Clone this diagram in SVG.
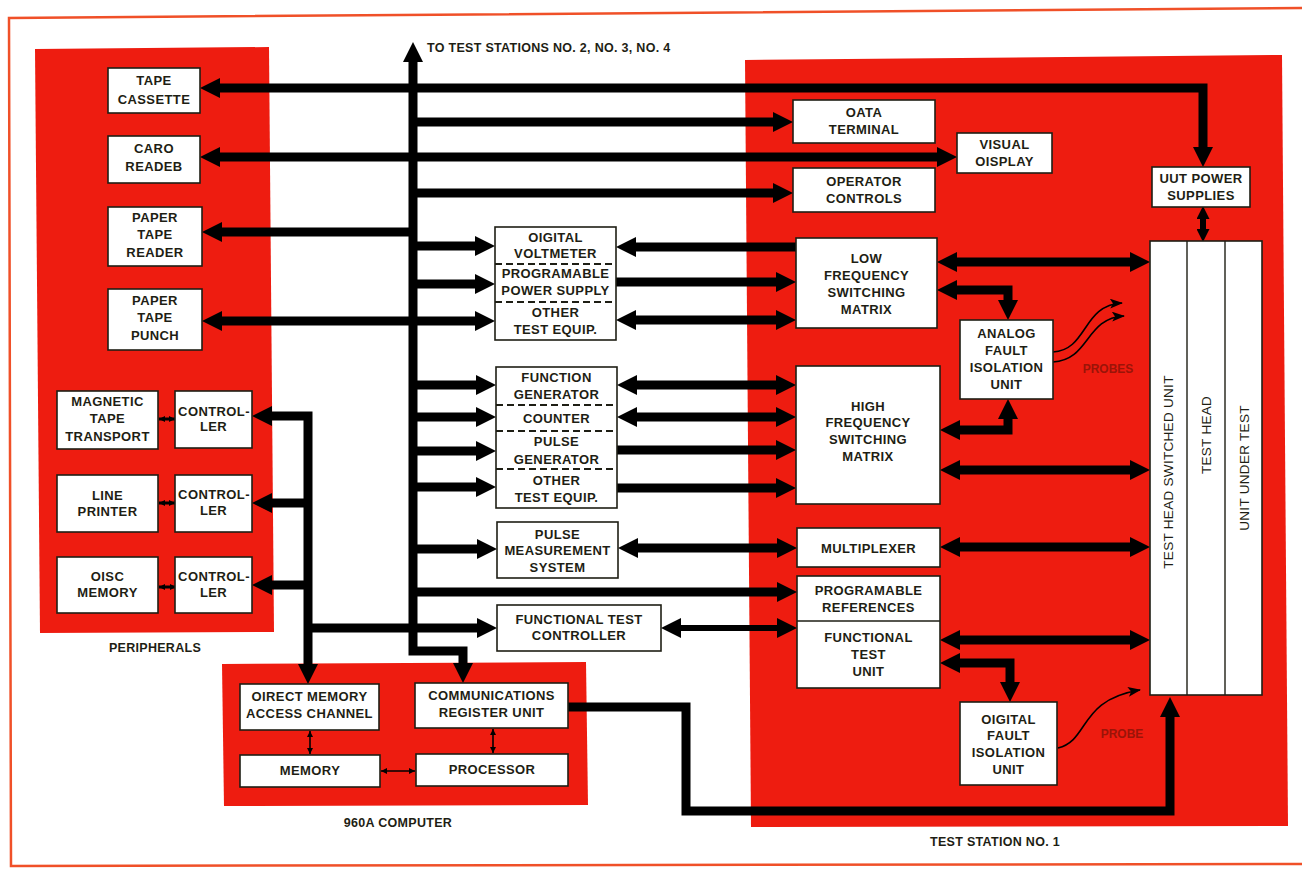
<svg xmlns="http://www.w3.org/2000/svg" width="1302" height="871" viewBox="0 0 1302 871">
<style>
.bg{fill:#ffffff}
.red{fill:#ee1c10}
.box{fill:#ffffff;stroke:#1e1e14;stroke-width:1.6}
.div{stroke:#1e1e14;stroke-width:2;stroke-dasharray:7 4;fill:none}
.sol{stroke:#1e1e14;stroke-width:1.4;fill:none}
.t{font-family:"Liberation Sans",Arial,sans-serif;font-weight:bold;font-size:13px;fill:#1e1e14;text-anchor:middle;letter-spacing:0.4px}
.lab{font-family:"Liberation Sans",Arial,sans-serif;font-weight:bold;font-size:12.5px;fill:#1e1e14;letter-spacing:0.3px}
.rot{font-family:"Liberation Sans",Arial,sans-serif;font-size:13.5px;fill:#1e1e14;text-anchor:middle;letter-spacing:0.3px}
.pr{font-family:"Liberation Sans",Arial,sans-serif;font-weight:bold;font-size:12px;fill:#9a1408;text-anchor:middle}
.bus{stroke:#000;stroke-width:9;fill:none;stroke-linejoin:miter}
.med{stroke:#000;stroke-width:6;fill:none}
.thin{stroke:#000;stroke-width:1.6;fill:none}
.sm{stroke:#000;stroke-width:3;fill:none}
.ba{marker-end:url(#ah)}
.bb{marker-start:url(#ah);marker-end:url(#ah)}
.bs{marker-start:url(#ah)}
</style>
<defs>
<marker id="ah" markerUnits="userSpaceOnUse" markerWidth="20" markerHeight="20" viewBox="0 0 20 20" refX="2" refY="10" orient="auto-start-reverse">
<path d="M0,0 L20,10 L0,20 z" fill="#000"/>
</marker>
<marker id="mh" markerUnits="userSpaceOnUse" markerWidth="13" markerHeight="13" viewBox="0 0 13 13" refX="1" refY="6.5" orient="auto-start-reverse">
<path d="M0,0 L13,6.5 L0,13 z" fill="#000"/>
</marker>
<marker id="th" markerUnits="userSpaceOnUse" markerWidth="13" markerHeight="10" viewBox="0 0 13 10" refX="12" refY="5" orient="auto-start-reverse">
<path d="M0,0 L13,5 L0,10 L3,5 z" fill="#000"/>
</marker>
<marker id="tn" markerUnits="userSpaceOnUse" markerWidth="6" markerHeight="6" viewBox="0 0 6 6" refX="6" refY="3" orient="auto-start-reverse">
<path d="M0,0 L6,3 L0,6 z" fill="#000"/>
</marker>
</defs>
<rect class="bg" x="0" y="0" width="1302" height="871"/>
<path d="M1302,8 L9,18 L11,866 L1302,864" fill="none" stroke="#f05028" stroke-width="2.5"/>

<g id="regions">
<polygon class="red" points="35,49 269,47 274,632 40,633"/>
<polygon class="red" points="745,60 1282,55 1288,826 751,827"/>
<polygon class="red" points="222,664 586,662 588,805 224,806"/>
<text class="lab" x="155" y="652" text-anchor="middle">PERIPHERALS</text>
<text class="lab" x="398" y="827" text-anchor="middle">960A COMPUTER</text>
<text class="lab" x="995" y="846" text-anchor="middle">TEST STATION NO. 1</text>
<text class="lab" x="427" y="52">TO TEST STATIONS NO. 2, NO. 3, NO. 4</text>
<text class="pr" x="1108" y="373">PROBES</text>
<text class="pr" x="1122" y="738">PROBE</text>
</g>

<g id="connectors">
<path class="bus bs ba" d="M413,60 L413,651 L463,651 L463,665"/>
<path class="bus bs ba" d="M270,416 L308,416 L308,666"/>
<path class="bus bs" d="M270,503 L308,503"/>
<path class="bus bs" d="M270,585 L308,585"/>
<path class="bus ba" d="M308,628 L479,628"/>
<path class="bus bb" d="M218,88 L1203,88 L1203,149"/>
<path class="bus ba" d="M413,122 L775,122"/>
<path class="bus bb" d="M218,157 L939,157"/>
<path class="bus ba" d="M413,193 L775,193"/>
<path class="bus ba" d="M413,232 L220,232"/>
<path class="bus ba" d="M413,246 L477,246"/>
<path class="bus ba" d="M413,284 L477,284"/>
<path class="bus bb" d="M220,321 L477,321"/>
<path class="bus ba" d="M413,385 L478,385"/>
<path class="bus ba" d="M413,417 L478,417"/>
<path class="bus ba" d="M413,451 L478,451"/>
<path class="bus ba" d="M413,487 L478,487"/>
<path class="bus ba" d="M413,549 L479,549"/>
<path class="bus ba" d="M413,592 L779,592"/>
<path class="bus ba" d="M796,247 L634,247"/>
<path class="bus ba" d="M616,282 L778,282"/>
<path class="bus bb" d="M634,320 L778,320"/>
<path class="bus bb" d="M635,385 L778,385"/>
<path class="bus bb" d="M635,417 L778,417"/>
<path class="bus ba" d="M617,450 L778,450"/>
<path class="bus ba" d="M617,488 L778,488"/>
<path class="bus bb" d="M636,548 L779,548"/>
<path class="med bb" d="M679,628 L779,628"/>
<path class="bus bb" d="M955,262 L1132,262"/>
<path class="bus bb" d="M955,290 L1008,290 L1008,302"/>
<path class="bus bb" d="M1008,417 L1008,430 L958,430"/>
<path class="bus bb" d="M958,470 L1132,470"/>
<path class="bus bb" d="M958,547 L1132,547"/>
<path class="bus bb" d="M958,640 L1132,640"/>
<path class="bus bb" d="M958,663 L1010,663 L1010,684"/>
<path class="med" d="M1203,218 L1203,230" marker-start="url(#mh)" marker-end="url(#mh)"/>
<path class="bus ba" d="M568,707 L686,707 L686,811 L1170,811 L1170,715"/>
<path class="thin" d="M1053,352 C1088,350 1082,305 1122,303" marker-end="url(#th)"/>
<path class="thin" d="M1053,362 C1090,360 1085,318 1124,316" marker-end="url(#th)"/>
<path class="thin" d="M1058,748 C1090,740 1078,700 1140,690" marker-end="url(#th)"/>
<path class="sm" d="M159,419 L175,419" marker-start="url(#tn)" marker-end="url(#tn)"/>
<path class="sm" d="M159,503 L175,503" marker-start="url(#tn)" marker-end="url(#tn)"/>
<path class="sm" d="M159,587 L176,587" marker-start="url(#tn)" marker-end="url(#tn)"/>
<path class="thin" d="M310,731 L310,754" marker-start="url(#tn)" marker-end="url(#tn)"/>
<path class="thin" d="M493,729 L493,753" marker-start="url(#tn)" marker-end="url(#tn)"/>
<path class="thin" d="M381,771 L415,771" marker-start="url(#tn)" marker-end="url(#tn)"/>
</g>

<g id="tape-cassette"><rect class="box" x="108" y="68" width="92" height="45"/>
<text class="t" x="154" y="85">TAPE</text><text class="t" x="154" y="104">CASSETTE</text></g>
<g id="card-reader"><rect class="box" x="108" y="136" width="92" height="47"/>
<text class="t" x="154" y="153">CARO</text><text class="t" x="154" y="171">READEB</text></g>
<g id="paper-tape-reader"><rect class="box" x="108" y="207" width="94" height="59"/>
<text class="t" x="155" y="222">PAPER</text><text class="t" x="155" y="239">TAPE</text><text class="t" x="155" y="257">READER</text></g>
<g id="paper-tape-punch"><rect class="box" x="108" y="289" width="94" height="61"/>
<text class="t" x="155" y="305">PAPER</text><text class="t" x="155" y="322">TAPE</text><text class="t" x="155" y="340">PUNCH</text></g>
<g id="magnetic-tape"><rect class="box" x="57" y="391" width="101" height="58"/>
<text class="t" x="107.5" y="406">MAGNETIC</text><text class="t" x="107.5" y="423">TAPE</text><text class="t" x="107.5" y="441">TRANSPORT</text></g>
<g id="controller-1"><rect class="box" x="175" y="391" width="77" height="57"/>
<text class="t" x="214" y="416">CONTROL-</text><text class="t" x="213.5" y="431">LER</text></g>
<g id="line-printer"><rect class="box" x="57" y="475" width="101" height="57"/>
<text class="t" x="107.5" y="500">LINE</text><text class="t" x="107.5" y="516">PRINTER</text></g>
<g id="controller-2"><rect class="box" x="175" y="475" width="77" height="57"/>
<text class="t" x="214" y="499">CONTROL-</text><text class="t" x="213.5" y="515">LER</text></g>
<g id="disc-memory"><rect class="box" x="57" y="557" width="101" height="56"/>
<text class="t" x="107.5" y="581">OISC</text><text class="t" x="107.5" y="597">MEMORY</text></g>
<g id="controller-3"><rect class="box" x="175" y="557" width="77" height="56"/>
<text class="t" x="214" y="581">CONTROL-</text><text class="t" x="213.5" y="597">LER</text></g>

<g id="data-terminal"><rect class="box" x="793" y="100" width="142" height="43"/>
<text class="t" x="864" y="117">OATA</text><text class="t" x="864" y="134">TERMINAL</text></g>
<g id="visual-display"><rect class="box" x="957" y="133" width="95" height="40"/>
<text class="t" x="1004.5" y="149">VISUAL</text><text class="t" x="1004.5" y="166">OISPLAY</text></g>
<g id="operator-controls"><rect class="box" x="793" y="168" width="142" height="44"/>
<text class="t" x="864" y="186">OPERATOR</text><text class="t" x="864" y="203">CONTROLS</text></g>
<g id="uut-power"><rect class="box" x="1152" y="167" width="98" height="40"/>
<text class="t" x="1201" y="183">UUT POWER</text><text class="t" x="1201" y="200">SUPPLIES</text></g>

<g id="test-head"><rect class="box" x="1150" y="241" width="112" height="454"/>
<line class="sol" x1="1187" y1="241" x2="1187" y2="695"/><line class="sol" x1="1225" y1="241" x2="1225" y2="695"/>
<text class="rot" transform="translate(1173,472) rotate(-90)">TEST HEAD SWITCHED UNIT</text>
<text class="rot" transform="translate(1211,435) rotate(-90)">TEST HEAD</text>
<text class="rot" transform="translate(1249,468) rotate(-90)">UNIT UNDER TEST</text></g>

<g id="instruments-1"><rect class="box" x="495" y="227" width="121" height="113"/>
<line class="div" x1="495" y1="264" x2="616" y2="264"/><line class="div" x1="495" y1="302" x2="616" y2="302"/>
<text class="t" x="555.5" y="242">OIGITAL</text><text class="t" x="555.5" y="258">VOLTMETER</text>
<text class="t" x="555.5" y="278">PROGRAMABLE</text><text class="t" x="555.5" y="295">POWER SUPPLY</text>
<text class="t" x="555.5" y="317">OTHER</text><text class="t" x="555.5" y="334">TEST EQUIP.</text></g>

<g id="lf-matrix"><rect class="box" x="796" y="238" width="141" height="90"/>
<text class="t" x="866.5" y="263">LOW</text><text class="t" x="866.5" y="280">FREQUENCY</text><text class="t" x="866.5" y="297">SWITCHING</text><text class="t" x="866.5" y="314">MATRIX</text></g>
<g id="analog-fiu"><rect class="box" x="960" y="320" width="93" height="79"/>
<text class="t" x="1006.5" y="338">ANALOG</text><text class="t" x="1006.5" y="355">FAULT</text><text class="t" x="1006.5" y="372">ISOLATION</text><text class="t" x="1006.5" y="389">UNIT</text></g>

<g id="instruments-2"><rect class="box" x="496" y="367" width="121" height="141"/>
<line class="div" x1="496" y1="405" x2="617" y2="405"/><line class="div" x1="496" y1="431" x2="617" y2="431"/><line class="div" x1="496" y1="469" x2="617" y2="469"/>
<text class="t" x="556.5" y="382">FUNCTION</text><text class="t" x="556.5" y="399">GENERATOR</text>
<text class="t" x="556.5" y="423">COUNTER</text>
<text class="t" x="556.5" y="446">PULSE</text><text class="t" x="556.5" y="464">GENERATOR</text>
<text class="t" x="556.5" y="485">OTHER</text><text class="t" x="556.5" y="502">TEST EQUIP.</text></g>

<g id="hf-matrix"><rect class="box" x="796" y="366" width="144" height="138"/>
<text class="t" x="868" y="411">HIGH</text><text class="t" x="868" y="427">FREQUENCY</text><text class="t" x="868" y="444">SWITCHING</text><text class="t" x="868" y="461">MATRIX</text></g>

<g id="pulse-measurement"><rect class="box" x="497" y="522" width="121" height="56"/>
<text class="t" x="557.5" y="539">PULSE</text><text class="t" x="557.5" y="555">MEASUREMENT</text><text class="t" x="557.5" y="572">SYSTEM</text></g>
<g id="multiplexer"><rect class="box" x="797" y="528" width="143" height="39"/>
<text class="t" x="868.5" y="553">MULTIPLEXER</text></g>
<g id="ref-ftu"><rect class="box" x="797" y="576" width="143" height="112"/>
<line class="sol" x1="797" y1="621" x2="940" y2="621"/>
<text class="t" x="868.5" y="595">PROGRAMABLE</text><text class="t" x="868.5" y="612">REFERENCES</text>
<text class="t" x="868.5" y="642">FUNCTIONAL</text><text class="t" x="868.5" y="659">TEST</text><text class="t" x="868.5" y="676">UNIT</text></g>
<g id="digital-fiu"><rect class="box" x="960" y="702" width="97" height="83"/>
<text class="t" x="1008.5" y="724">OIGITAL</text><text class="t" x="1008.5" y="740">FAULT</text><text class="t" x="1008.5" y="757">ISOLATION</text><text class="t" x="1008.5" y="774">UNIT</text></g>
<g id="ftc"><rect class="box" x="497" y="605" width="164" height="46"/>
<text class="t" x="579" y="624">FUNCTIONAL TEST</text><text class="t" x="579" y="640">CONTROLLER</text></g>

<g id="dma"><rect class="box" x="240" y="684" width="139" height="46"/>
<text class="t" x="309.5" y="701">OIRECT MEMORY</text><text class="t" x="309.5" y="718">ACCESS CHANNEL</text></g>
<g id="comm"><rect class="box" x="415" y="683" width="153" height="45"/>
<text class="t" x="491.5" y="700">COMMUNICATIONS</text><text class="t" x="491.5" y="717">REGISTER UNIT</text></g>
<g id="memory"><rect class="box" x="240" y="755" width="140" height="32"/>
<text class="t" x="310" y="775">MEMORY</text></g>
<g id="processor"><rect class="box" x="416" y="754" width="152" height="32"/>
<text class="t" x="492" y="774">PROCESSOR</text></g>
</svg>
